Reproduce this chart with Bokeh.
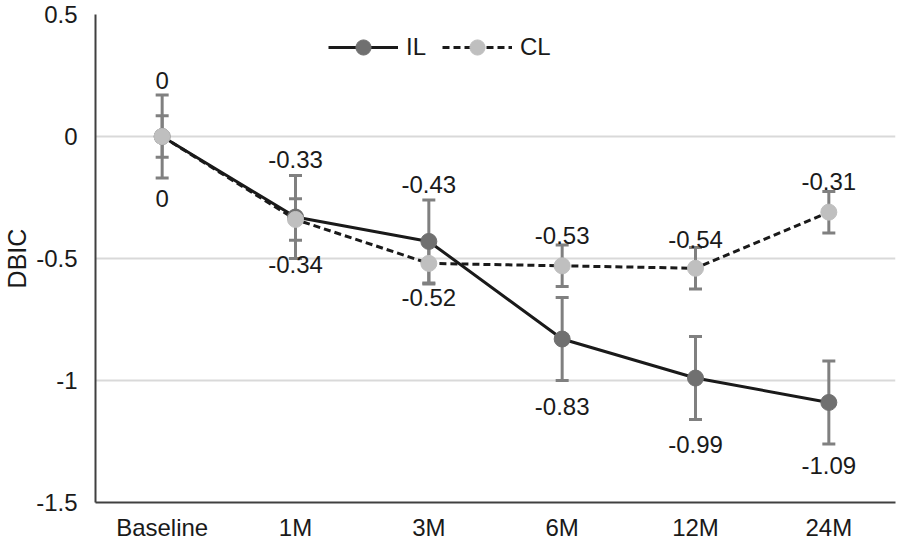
from bokeh.plotting import figure
from bokeh.models import (ColumnDataSource, Range1d, FactorRange, FixedTicker, Whisker,
                          TeeHead, Legend, LegendItem)
from bokeh.embed import file_html
from bokeh.resources import INLINE

# ---- data ----
categories = ["Baseline", "1M", "3M", "6M", "12M", "24M"]
il_values = [0, -0.33, -0.43, -0.83, -0.99, -1.09]
il_errors = [0.17, 0.17, 0.17, 0.17, 0.17, 0.17]
cl_values = [0, -0.34, -0.52, -0.53, -0.54, -0.31]
cl_errors = [0.085, 0.085, 0.085, 0.085, 0.085, 0.085]
y_ticks = [0.5, 0, -0.5, -1, -1.5]
y_tick_labels = ["0.5", "0", "-0.5", "-1", "-1.5"]

# label pixel offsets (style)
il_label_dy = [-56, -58, -57, 67, 66, 63]
cl_label_dy = [62, 45, 34, -30, -29, -31]

FONT = "Liberation Sans"
FS = "24px"
TXT = "#1a1a1a"

def fmt(v):
    return f"{v:g}"

il_src = ColumnDataSource(dict(
    x=categories, y=il_values,
    upper=[v + e for v, e in zip(il_values, il_errors)],
    lower=[v - e for v, e in zip(il_values, il_errors)],
    label=[fmt(v) for v in il_values], dy=il_label_dy))
cl_src = ColumnDataSource(dict(
    x=categories, y=cl_values,
    upper=[v + e for v, e in zip(cl_values, cl_errors)],
    lower=[v - e for v, e in zip(cl_values, cl_errors)],
    label=[fmt(v) for v in cl_values], dy=cl_label_dy))

p = figure(x_range=FactorRange(*categories, range_padding=0),
           y_range=Range1d(-1.5, 0.5),
           frame_width=800, frame_height=488,
           output_backend="svg", toolbar_location=None,
           min_border_left=80, min_border_right=3, min_border_top=14, min_border_bottom=0)
p.outline_line_color = None
p.background_fill_color = "white"

# axes
p.yaxis.ticker = FixedTicker(ticks=y_ticks)
p.yaxis.major_label_overrides = {t: l for t, l in zip(y_ticks, y_tick_labels)}
p.yaxis.axis_label = "DBIC"
for ax in (p.xaxis[0], p.yaxis[0]):
    ax.axis_line_color = "#404040"
    ax.axis_line_width = 2
    ax.major_tick_line_color = None
    ax.minor_tick_line_color = None
    ax.major_label_text_font = FONT
    ax.major_label_text_font_size = FS
    ax.major_label_text_color = TXT
p.yaxis.major_label_standoff = 12
p.xaxis.major_label_standoff = 5
p.yaxis.axis_label_text_font = FONT
p.yaxis.axis_label_text_font_size = "25px"
p.yaxis.axis_label_text_font_style = "normal"
p.yaxis.axis_label_text_color = TXT
p.yaxis.axis_label_standoff = 2

p.xgrid.grid_line_color = None
p.ygrid.ticker = FixedTicker(ticks=[0, -0.5, -1])
p.ygrid.grid_line_color = "#d9d9d9"
p.ygrid.grid_line_width = 2

# error bars
for src in (il_src, cl_src):
    w = Whisker(base="x", upper="upper", lower="lower", source=src,
                line_color="#808080", line_width=3,
                upper_head=TeeHead(size=13, line_color="#808080", line_width=3),
                lower_head=TeeHead(size=13, line_color="#808080", line_width=3))
    p.add_layout(w)

il_line = p.line("x", "y", source=il_src, line_color="#1a1a1a", line_width=3)
cl_line = p.line("x", "y", source=cl_src, line_color="#1a1a1a", line_width=3,
                 line_dash="7 4")
il_pts = p.scatter("x", "y", source=il_src, size=16, fill_color="#707070",
                   line_color="#707070")
cl_pts = p.scatter("x", "y", source=cl_src, size=16, fill_color="#bfbfbf",
                   line_color="#bfbfbf")

for src in (il_src, cl_src):
    p.text("x", "y", text="label", source=src, y_offset="dy",
           text_align="center", text_baseline="middle",
           text_font={"value": FONT}, text_font_size=FS, text_color=TXT)

legend = Legend(items=[LegendItem(label="IL", renderers=[il_line, il_pts]),
                       LegendItem(label="CL", renderers=[cl_line, cl_pts])],
                orientation="horizontal", location=(233, 436),
                glyph_width=70, glyph_height=38, label_standoff=8, spacing=16,
                label_text_font=FONT, label_text_font_size=FS, label_text_color=TXT,
                border_line_color=None, background_fill_alpha=0, padding=4)
p.add_layout(legend)

open("out.html", "w").write(file_html(p, INLINE))
